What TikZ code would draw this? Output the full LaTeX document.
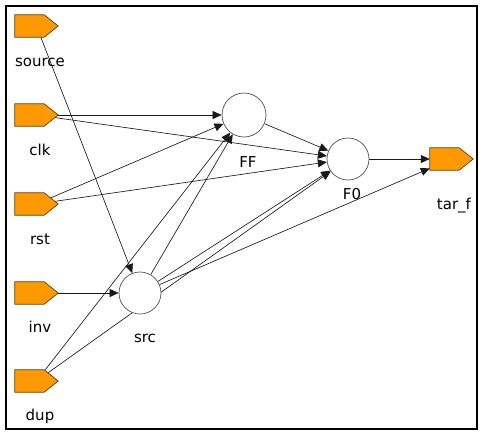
\documentclass[tikz,border=0pt]{standalone}
\usepackage{fontspec}
\setmainfont{DejaVu Sans}
\usetikzlibrary{arrows.meta,backgrounds}
\definecolor{portfill}{RGB}{255,153,0}
\definecolor{portline}{RGB}{90,60,25}
\definecolor{edgecol}{RGB}{25,25,25}
\definecolor{circline}{RGB}{80,80,80}
\begin{document}
\begin{tikzpicture}[x=1pt,y=-1pt,
  port/.style={rectangle, draw=none, minimum width=43pt, minimum height=22pt, inner sep=0pt},
  portshape/.style={draw=portline, fill=portfill, line width=0.7pt, line join=miter},
  proc/.style={circle, draw=circline, fill=white, inner sep=0pt, line width=0.7pt},
  lbl/.style={font=\fontsize{15}{17}\selectfont, text=black, inner sep=0pt},
  conn/.style={draw=edgecol, line width=0.65pt, -{Triangle[length=9pt,width=8pt]}},
  plainconn/.style={draw=edgecol, line width=0.65pt}]
\useasboundingbox (0,0) rectangle (485,437);
\draw[line width=2pt] (6,6) rectangle (477,429);
% ports
\node[port] (source) at (36.5,26) {};
\node[port] (clk) at (36.5,115) {};
\node[port] (rst) at (36.5,204) {};
\node[port] (inv) at (36.5,293) {};
\node[port] (dup) at (36.5,381) {};
\node[port] (tarf) at (451.5,159) {};
\foreach \p in {source,clk,rst,inv,dup,tarf}{
  \draw[portshape] (\p.north west) -- ([xshift=-14pt]\p.north east) -- (\p.east)
    -- ([xshift=-14pt]\p.south east) -- (\p.south west) -- cycle;
}
% processes
\node[proc, minimum size=44pt] (FF) at (244,115) {};
\node[proc, minimum size=42pt] (F0) at (348,159) {};
\node[proc, minimum size=42pt] (src) at (140,293) {};
% labels
\node[lbl] (lsource) at (40,62) {source};
\node[lbl] (lclk) at (40,150) {clk};
\node[lbl] (lrst) at (40,239) {rst};
\node[lbl] (linv) at (40,327) {inv};
\node[lbl] (ldup) at (40,416) {dup};
\node[lbl] (lFF) at (248,162) {FF};
\node[lbl] (lF0) at (352,194) {F0};
\node[lbl] (lsrc) at (145,338) {src};
\node[lbl] (ltarf) at (454,206) {tar\_f};
% connectors
\begin{pgfonlayer}{background}
\draw[conn] (source.center) -- (src);
\draw[conn] (clk.center) -- (FF);
\draw[conn] (clk.center) -- (F0);
\draw[conn] (rst.center) -- (FF);
\draw[conn] (rst.center) -- (F0);
\draw[conn] (inv.center) -- (src);
\draw[conn] (dup.center) -- (FF);
\draw[conn] (dup.center) -- (F0);
\draw[conn] (src) -- (FF);
\draw[conn] (src) -- (F0);
\draw[conn] (src) -- (tarf);
\draw[conn] (FF) -- (F0);
\draw[conn] (F0) -- (tarf);
\end{pgfonlayer}
\end{tikzpicture}
\end{document}
